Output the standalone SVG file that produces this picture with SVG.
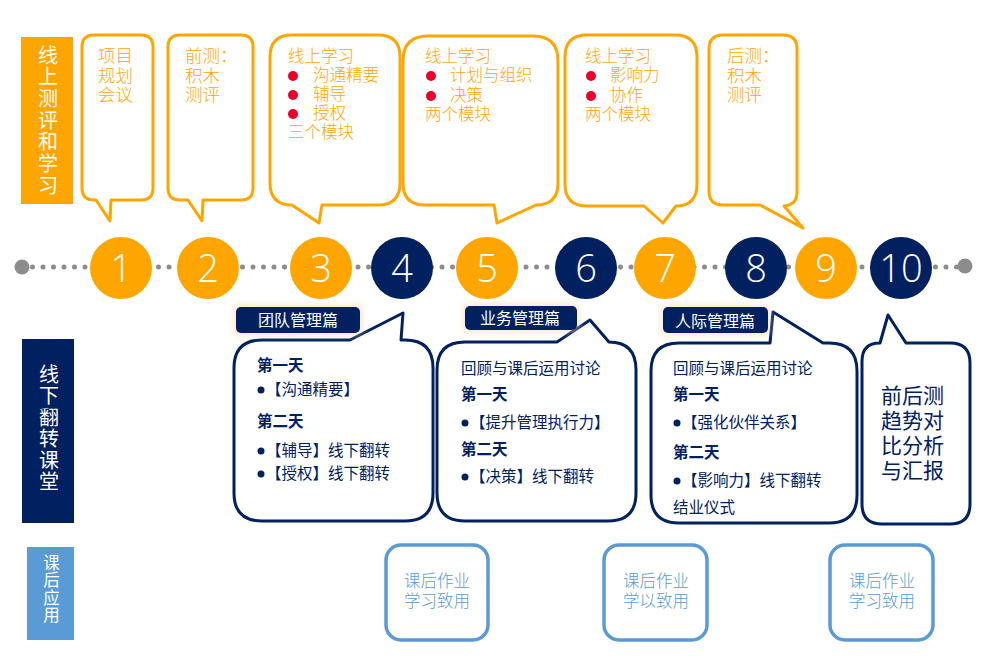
<svg xmlns="http://www.w3.org/2000/svg" width="991" height="662" viewBox="0 0 991 662">
<defs>
<style>
.cjk{font-family:"Noto Sans CJK SC","Noto Sans",sans-serif;}
.ot{fill:#FFA500;font-size:16.5px;font-weight:300;}
.ot2{fill:#FFA500;font-size:17.5px;font-weight:300;}
.nv{fill:#002060;font-size:15.5px;}
.nvb{fill:#002060;font-size:15.5px;font-weight:bold;}
.bl{fill:#5B9BD5;font-size:16.5px;font-weight:300;}
.side{fill:#FFFFFF;font-size:20px;}
.ob{fill:#FFFFFF;stroke:#FFA500;stroke-width:3;stroke-linejoin:round;}
.nb{fill:#FFFFFF;stroke:#002060;stroke-width:3;stroke-linejoin:round;}
.bb{fill:#FFFFFF;stroke:#5B9BD5;stroke-width:3.5;}
.lab{fill:#002060;}
.labt{fill:#FFFFFF;font-size:16px;}
.num{fill:#FFFFFF;font-family:"Open Sans","Noto Sans",sans-serif;font-size:38px;font-weight:300;text-anchor:middle;}
.co{fill:#FFA500;}
.cn{fill:#002060;}
.rd{fill:#E8002A;}
.nd{fill:#002060;}
</style>
<filter id="glow" x="-20%" y="-40%" width="140%" height="180%"><feGaussianBlur stdDeviation="3"/></filter>
</defs>

<!-- side bars -->
<g id="bar-online">
<rect x="21" y="37" width="52" height="167" fill="#FFA500"/>
<text class="cjk side" text-anchor="middle"><tspan x="48" y="62.5">线</tspan><tspan x="48" y="84.2">上</tspan><tspan x="48" y="105.9">测</tspan><tspan x="48" y="127.6">评</tspan><tspan x="48" y="149.3">和</tspan><tspan x="48" y="171">学</tspan><tspan x="48" y="192.7">习</tspan></text>
</g>
<g id="bar-offline">
<rect x="22" y="339" width="52" height="184" fill="#002060"/>
<text class="cjk side" text-anchor="middle"><tspan x="49" y="381.5">线</tspan><tspan x="49" y="403">下</tspan><tspan x="49" y="424.5">翻</tspan><tspan x="49" y="446">转</tspan><tspan x="49" y="467.5">课</tspan><tspan x="49" y="489">堂</tspan></text>
</g>
<g id="bar-after">
<rect x="27" y="547" width="47" height="93" fill="#5B9BD5"/>
<text class="cjk" fill="#FFFFFF" font-size="16.5" text-anchor="middle"><tspan x="51.5" y="568.5">课</tspan><tspan x="51.5" y="586">后</tspan><tspan x="51.5" y="603.5">应</tspan><tspan x="51.5" y="621">用</tspan></text>
</g>

<!-- connectors: dotted timeline -->
<g id="connectors">
<line x1="22" y1="267" x2="965" y2="267" stroke="#8C8C8C" stroke-width="5" stroke-linecap="round" stroke-dasharray="0 10.5"/>
<circle cx="22" cy="267" r="7.5" fill="#8C8C8C"/>
<circle cx="965" cy="266" r="7.5" fill="#8C8C8C"/>
</g>

<!-- timeline nodes -->
<g id="n1"><circle class="co" cx="121" cy="268" r="31"/><text class="num" x="121" y="282">1</text></g>
<g id="n2"><circle class="co" cx="208" cy="268" r="31"/><text class="num" x="208" y="282">2</text></g>
<g id="n3"><circle class="co" cx="321" cy="268" r="31"/><text class="num" x="321" y="282">3</text></g>
<g id="n4"><circle class="cn" cx="402" cy="268" r="31"/><text class="num" x="402" y="282">4</text></g>
<g id="n5"><circle class="co" cx="487" cy="268" r="31"/><text class="num" x="487" y="282">5</text></g>
<g id="n6"><circle class="cn" cx="586" cy="268" r="31"/><text class="num" x="586" y="282">6</text></g>
<g id="n7"><circle class="co" cx="665" cy="268" r="31"/><text class="num" x="665" y="282">7</text></g>
<g id="n8"><circle class="cn" cx="756" cy="268" r="31"/><text class="num" x="756" y="282">8</text></g>
<g id="n9"><circle class="co" cx="826" cy="268" r="31"/><text class="num" x="826" y="282">9</text></g>
<g id="n10"><circle class="cn" cx="901" cy="268" r="31"/><text class="num" x="901" y="282">10</text></g>

<!-- top callouts -->
<g id="top1">
<path class="ob" d="M94,35 H141 Q153,35 153,47 V188 Q153,200 141,200 H111 L110,221 L96,200 H94 Q82,200 82,188 V47 Q82,35 94,35 Z"/>
<text class="cjk ot2"><tspan x="98" y="62">项目</tspan><tspan x="98" y="81.5">规划</tspan><tspan x="98" y="101">会议</tspan></text>
</g>
<g id="top2">
<path class="ob" d="M180,35 H241 Q253,35 253,47 V188 Q253,200 241,200 H203 L202,221 L188,200 H180 Q168,200 168,188 V47 Q168,35 180,35 Z"/>
<text class="cjk ot2"><tspan x="185" y="62">前测：</tspan><tspan x="185" y="81.5">积木</tspan><tspan x="185" y="101">测评</tspan></text>
</g>
<g id="top3">
<path class="ob" d="M292,35 H378 Q400,35 400,57 V183 Q400,205 378,205 H322 L319,223 L292,205 Q270,205 270,183 V57 Q270,35 292,35 Z"/>
<text class="cjk ot"><tspan x="288" y="62">线上学习</tspan><tspan x="313" y="81">沟通精要</tspan><tspan x="313" y="100">辅导</tspan><tspan x="313" y="119">授权</tspan><tspan x="288" y="138">三个模块</tspan></text>
<circle class="rd" cx="293" cy="76" r="5"/><circle class="rd" cx="293" cy="95" r="5"/><circle class="rd" cx="293" cy="114" r="5"/>
</g>
<g id="top5">
<path class="ob" d="M428,36 H533 Q558,36 558,61 V183 Q558,205 536,205 L497,223 L494,205 H425 Q403,205 403,183 V61 Q403,36 428,36 Z"/>
<text class="cjk ot"><tspan x="425" y="62">线上学习</tspan><tspan x="450" y="81">计划与组织</tspan><tspan x="450" y="101">决策</tspan><tspan x="425" y="120">两个模块</tspan></text>
<circle class="rd" cx="431" cy="76" r="5"/><circle class="rd" cx="431" cy="96" r="5"/>
</g>
<g id="top7">
<path class="ob" d="M587,35 H675 Q697,35 697,57 V184 Q697,206 676,206 L663,223 L644,206 H587 Q565,206 565,184 V57 Q565,35 587,35 Z"/>
<text class="cjk ot"><tspan x="585" y="62">线上学习</tspan><tspan x="610" y="81">影响力</tspan><tspan x="610" y="101">协作</tspan><tspan x="585" y="120">两个模块</tspan></text>
<circle class="rd" cx="591" cy="76" r="5"/><circle class="rd" cx="591" cy="96" r="5"/>
</g>
<g id="top9">
<path class="ob" d="M723,35 H783 Q797,35 797,49 V192 Q797,205 784,206 L803,228 L760,205 H723 Q709,205 709,191 V49 Q709,35 723,35 Z"/>
<text class="cjk ot2"><tspan x="727" y="62">后测：</tspan><tspan x="727" y="81.5">积木</tspan><tspan x="727" y="101">测评</tspan></text>
</g>

<!-- bottom callouts -->
<g id="bottomA">
<path class="nb" d="M262,340 H350 L403,313 L401,340 H405 Q433,340 433,368 V493 Q433,521 405,521 H262 Q234,521 234,493 V368 Q234,340 262,340 Z"/>
<rect x="233" y="304" width="130" height="32" rx="6" fill="#FBD3A6" opacity="0.45" filter="url(#glow)"/>
<rect class="lab" x="236" y="307" width="124" height="26" rx="5"/>
<text class="cjk labt" x="258" y="326">团队管理篇</text>
<text class="cjk nvb" x="257" y="371">第一天</text>
<circle class="nd" cx="261" cy="390" r="3.5"/><text class="cjk nv" x="266" y="395">【沟通精要】</text>
<text class="cjk nvb" x="257" y="427">第二天</text>
<circle class="nd" cx="261" cy="451" r="3.5"/><text class="cjk nv" x="266" y="456">【辅导】线下翻转</text>
<circle class="nd" cx="261" cy="474" r="3.5"/><text class="cjk nv" x="266" y="479">【授权】线下翻转</text>
</g>
<g id="bottomB">
<path class="nb" d="M465,342 H557 L590,320 L609,342 Q636,342 636,370 V493 Q636,521 608,521 H465 Q437,521 437,493 V370 Q437,342 465,342 Z"/>
<rect x="462" y="303" width="118" height="30" rx="6" fill="#FBD3A6" opacity="0.45" filter="url(#glow)"/>
<rect class="lab" x="465" y="306" width="112" height="24" rx="5"/>
<text class="cjk labt" x="480" y="324">业务管理篇</text>
<text class="cjk nv" x="461" y="374">回顾与课后运用讨论</text>
<text class="cjk nvb" x="461" y="400">第一天</text>
<circle class="nd" cx="465" cy="423" r="3.5"/><text class="cjk nv" x="470" y="428">【提升管理执行力】</text>
<text class="cjk nvb" x="461" y="455">第二天</text>
<circle class="nd" cx="465" cy="477" r="3.5"/><text class="cjk nv" x="470" y="482">【决策】线下翻转</text>
</g>
<g id="bottomC">
<path class="nb" d="M679,343 H770 L773,312 L823,343 H829 Q857,343 857,371 V495 Q857,523 829,523 H679 Q651,523 651,495 V371 Q651,343 679,343 Z"/>
<rect x="660" y="304" width="111" height="32" rx="6" fill="#FBD3A6" opacity="0.45" filter="url(#glow)"/>
<rect class="lab" x="663" y="307" width="105" height="26" rx="5"/>
<text class="cjk labt" x="675" y="327">人际管理篇</text>
<text class="cjk nv" x="673" y="374">回顾与课后运用讨论</text>
<text class="cjk nvb" x="673" y="400">第一天</text>
<circle class="nd" cx="677" cy="423" r="3.5"/><text class="cjk nv" x="682" y="428">【强化伙伴关系】</text>
<text class="cjk nvb" x="673" y="458">第二天</text>
<circle class="nd" cx="677" cy="481" r="3.5"/><text class="cjk nv" x="682" y="486">【影响力】线下翻转</text>
<text class="cjk nv" x="673" y="513">结业仪式</text>
</g>
<g id="bottomD">
<path class="nb" d="M862,361 Q862,343 880,343 L888,315 L906,343 H950 Q970,343 970,363 V504 Q970,524 950,524 H882 Q862,524 862,504 Z"/>
<text class="cjk" fill="#002060" font-size="21"><tspan x="881" y="403">前后测</tspan><tspan x="881" y="428">趋势对</tspan><tspan x="881" y="453">比分析</tspan><tspan x="881" y="478">与汇报</tspan></text>
</g>

<!-- after-class boxes -->
<g id="hw1">
<rect class="bb" x="386" y="545" width="102" height="95" rx="15"/>
<text class="cjk bl" text-anchor="middle"><tspan x="437" y="587">课后作业</tspan><tspan x="437" y="607">学习致用</tspan></text>
</g>
<g id="hw2">
<rect class="bb" x="604" y="545" width="103" height="95" rx="15"/>
<text class="cjk bl" text-anchor="middle"><tspan x="656" y="587">课后作业</tspan><tspan x="656" y="607">学以致用</tspan></text>
</g>
<g id="hw3">
<rect class="bb" x="830" y="545" width="103" height="95" rx="15"/>
<text class="cjk bl" text-anchor="middle"><tspan x="882" y="587">课后作业</tspan><tspan x="882" y="607">学习致用</tspan></text>
</g>
</svg>
